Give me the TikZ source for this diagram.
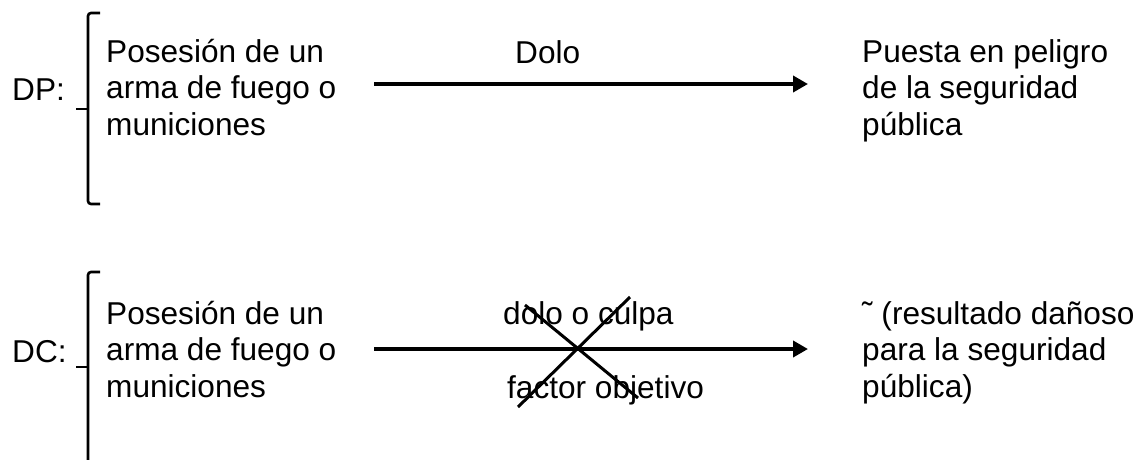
\documentclass[tikz,border=0pt]{standalone}
\usepackage{fontspec}
\setmainfont{Liberation Sans}
\usetikzlibrary{arrows.meta}
\tikzset{
  txt/.style={inner sep=0pt, anchor=base west, align=left, font=\fontsize{31.6}{36.3}\selectfont},
  conn/.style={line width=3.7pt, -{Triangle[length=15pt,width=16pt]}},
  cross/.style={line width=3pt},
  brace/.style={line width=2.6pt, rounded corners=3pt},
}
\begin{document}
\begin{tikzpicture}[x=1pt,y=-1pt]
\useasboundingbox (0,0) rectangle (1148,459);
% Row 1 (multi-line nodes: base = baseline of last line)
\node[txt] (dp) at (12,100) {DP:};
\node[txt] (l1) at (106,135) {Posesión de un\\arma de fuego o\\municiones};
\node[txt] (dolo) at (515,63) {Dolo};
\node[txt] (r1) at (862,135) {Puesta en peligro\\de la seguridad\\pública};
\coordinate (b1t) at (100,13);
\coordinate (b1b) at (100,204);
\coordinate (b1m) at (88,109);
\coordinate (b1k) at (76,109);
\draw[brace] (b1t) -- (88,13) -- (88,204) -- (b1b);
\draw[brace] (b1m) -- (b1k);
\coordinate (a1s) at (374,84);
\coordinate (a1e) at (808,84);
\draw[conn] (a1s) -- (a1e);
% Row 2
\node[txt] (dc) at (12,362) {DC:};
\node[txt] (l2) at (106,397) {Posesión de un\\arma de fuego o\\municiones};
\node[txt] (dc1) at (503,324) {dolo o culpa};
\node[txt] (fo) at (507,398) {factor objetivo};
\node[txt] (r2) at (862,397) {˜ (resultado dañoso\\para la seguridad\\pública)};
\coordinate (b2t) at (100,272);
\coordinate (b2b) at (100,470);
\coordinate (b2m) at (88,367);
\coordinate (b2k) at (76,367);
\draw[brace] (b2t) -- (88,272) -- (88,470) -- (b2b);
\draw[brace] (b2m) -- (b2k);
\coordinate (a2s) at (374,349);
\coordinate (a2e) at (808,349);
\draw[conn] (a2s) -- (a2e);
\coordinate (xa1) at (525,305);
\coordinate (xa2) at (638,398);
\coordinate (xb1) at (630,297);
\coordinate (xb2) at (518,407);
\draw[cross] (xa1) -- (xa2);
\draw[cross] (xb1) -- (xb2);
\end{tikzpicture}
\end{document}
